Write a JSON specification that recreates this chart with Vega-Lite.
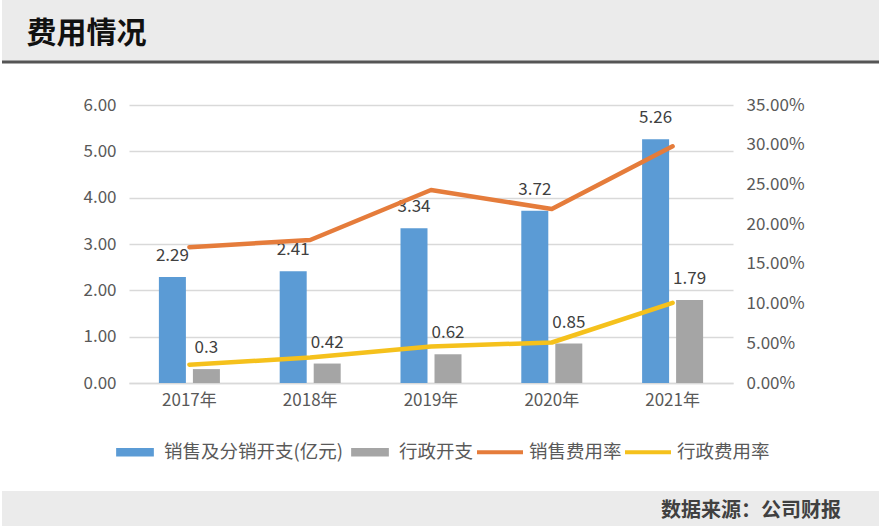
{
  "$schema": "https://vega.github.io/schema/vega-lite/v6.json",
  "padding": 0,
  "spacing": 32,
  "background": "white",
  "resolve": {"scale": {"color": "independent"}, "legend": {"color": "independent"}},
  "config": {
    "view": {"stroke": null},
    "font": "Noto Sans CJK SC",
    "axis": {"labelFont": "Noto Sans CJK SC", "labelColor": "#595959", "labelFontSize": 17, "ticks": false, "domain": false, "title": null},
    "legend": {"labelFont": "Noto Sans CJK SC"}
  },
  "datasets": {
    "main": [
      {"year": "2017年", "series": "销售及分销开支(亿元)", "kind": "bar", "value": 2.29},
      {"year": "2018年", "series": "销售及分销开支(亿元)", "kind": "bar", "value": 2.41},
      {"year": "2019年", "series": "销售及分销开支(亿元)", "kind": "bar", "value": 3.34},
      {"year": "2020年", "series": "销售及分销开支(亿元)", "kind": "bar", "value": 3.72},
      {"year": "2021年", "series": "销售及分销开支(亿元)", "kind": "bar", "value": 5.26},
      {"year": "2017年", "series": "行政开支", "kind": "bar", "value": 0.3},
      {"year": "2018年", "series": "行政开支", "kind": "bar", "value": 0.42},
      {"year": "2019年", "series": "行政开支", "kind": "bar", "value": 0.62},
      {"year": "2020年", "series": "行政开支", "kind": "bar", "value": 0.85},
      {"year": "2021年", "series": "行政开支", "kind": "bar", "value": 1.79},
      {"year": "2017年", "series": "销售费用率", "kind": "line", "value": 0.171},
      {"year": "2018年", "series": "销售费用率", "kind": "line", "value": 0.18},
      {"year": "2019年", "series": "销售费用率", "kind": "line", "value": 0.243},
      {"year": "2020年", "series": "销售费用率", "kind": "line", "value": 0.219},
      {"year": "2021年", "series": "销售费用率", "kind": "line", "value": 0.298},
      {"year": "2017年", "series": "行政费用率", "kind": "line", "value": 0.023},
      {"year": "2018年", "series": "行政费用率", "kind": "line", "value": 0.032},
      {"year": "2019年", "series": "行政费用率", "kind": "line", "value": 0.046},
      {"year": "2020年", "series": "行政费用率", "kind": "line", "value": 0.051},
      {"year": "2021年", "series": "行政费用率", "kind": "line", "value": 0.101}
    ]
  },
  "vconcat": [
    {
      "width": 879,
      "height": 62,
      "view": {"fill": "#ebebeb", "stroke": null},
      "data": {"values": [{"label": "费用情况"}]},
      "layer": [
        {
          "mark": {"type": "rule", "color": "#555555", "strokeWidth": 3},
          "encoding": {"y": {"datum": 0, "type": "quantitative", "scale": {"domain": [0, 1]}, "axis": null}}
        },
        {
          "mark": {"type": "text", "align": "left", "baseline": "middle", "fontSize": 30, "fontWeight": "bold", "color": "#111111", "font": "Noto Sans CJK SC"},
          "encoding": {
            "text": {"field": "label"},
            "x": {"datum": 0.028, "type": "quantitative", "scale": {"domain": [0, 1]}, "axis": null},
            "y": {"datum": 0.45, "type": "quantitative", "scale": {"domain": [0, 1]}, "axis": null}
          }
        }
      ]
    },
    {
      "spacing": 29,
      "resolve": {"scale": {"color": "independent"}, "legend": {"color": "independent"}},
      "vconcat": [
        {
          "spacing": 0,
          "resolve": {"scale": {"color": "independent"}, "legend": {"color": "independent"}},
          "hconcat": [
            {
              "width": 80,
              "height": 278,
              "data": {"values": []},
              "mark": "point"
            },
            {
              "width": 604,
              "height": 278,
              "data": {"name": "main"},
              "layer": [
                {
                  "transform": [{"filter": "datum.kind == 'bar'"}],
                  "encoding": {
                    "x": {
                      "field": "year", "type": "nominal", "sort": null,
                      "scale": {"paddingInner": 0.495, "paddingOuter": 0.2475},
                      "axis": {"labelAngle": 0, "labelPadding": 9, "domain": true, "domainColor": "#d9d9d9", "domainWidth": 1.5, "labelFontSize": 17}
                    },
                    "xOffset": {"field": "series", "type": "nominal", "sort": ["销售及分销开支(亿元)", "行政开支"], "scale": {"paddingInner": 0.206, "paddingOuter": 0}},
                    "y": {
                      "field": "value", "type": "quantitative",
                      "scale": {"domain": [0, 6], "nice": false},
                      "axis": {"values": [0, 1, 2, 3, 4, 5, 6], "format": ".2f", "grid": true, "gridColor": "#d9d9d9", "gridWidth": 1.5, "labelPadding": 13}
                    }
                  },
                  "layer": [
                    {
                      "mark": {"type": "bar"},
                      "encoding": {
                        "color": {
                          "field": "series", "type": "nominal",
                          "scale": {
                            "domain": ["销售及分销开支(亿元)", "行政开支", "销售费用率", "行政费用率"],
                            "range": ["#5b9bd5", "#a5a5a5", "#e57c3b", "#f5c11c"]
                          },
                          "legend": {
                            "orient": "none",
                            "legendX": -17,
                            "legendY": 324,
                            "direction": "horizontal",
                            "columns": 4,
                            "title": null,
                            "labelFontSize": 18.5,
                            "labelColor": "#595959",
                            "labelLimit": 400,
                            "symbolSize": 2116,
                            "labelOffset": 6,
                            "columnPadding": 3,
                            "encode": {
                              "symbols": {
                                "update": {
                                  "shape": {"signal": "(datum.value == '销售费用率' || datum.value == '行政费用率') ? 'M-1,-0.09H1V0.09H-1Z' : 'M-0.82,-0.18H0.82V0.18H-0.82Z'"},
                                  "fill": {"signal": "{'销售及分销开支(亿元)': '#5b9bd5', '行政开支': '#a5a5a5', '销售费用率': '#e57c3b', '行政费用率': '#f5c11c'}[datum.value]"},
                                  "stroke": {"value": "transparent"},
                                  "strokeWidth": {"value": 0},
                                  "opacity": {"value": 1}
                                }
                              }
                            }
                          }
                        }
                      }
                    },
                    {
                      "mark": {"type": "text", "baseline": "middle", "dy": -21, "fontSize": 17, "color": "#404040"},
                      "encoding": {
                        "text": {"field": "value", "type": "quantitative", "format": "~g"}
                      }
                    }
                  ]
                },
                {
                  "transform": [{"filter": "datum.kind == 'line'"}],
                  "mark": {"type": "line", "strokeWidth": 4.5, "strokeCap": "round", "strokeJoin": "round"},
                  "encoding": {
                    "x": {"field": "year", "type": "nominal", "sort": null},
                    "y": {
                      "field": "value", "type": "quantitative",
                      "scale": {"domain": [0, 0.35], "nice": false},
                      "axis": {"orient": "right", "values": [0, 0.05, 0.1, 0.15, 0.2, 0.25, 0.3, 0.35], "format": ".2%", "grid": false, "labelPadding": 13}
                    },
                    "color": {"field": "series", "type": "nominal"}
                  }
                }
              ],
              "resolve": {"scale": {"y": "independent"}}
            }
          ]
        },
        {
          "width": 879,
          "height": 35,
          "view": {"fill": "#ebebeb", "stroke": null},
          "data": {"values": [{"label": "数据来源：公司财报"}]},
          "mark": {"type": "text", "align": "center", "baseline": "middle", "fontSize": 20, "fontWeight": "bold", "color": "#404040", "font": "Noto Sans CJK SC"},
          "encoding": {
            "text": {"field": "label"},
            "x": {"datum": 0.852, "type": "quantitative", "scale": {"domain": [0, 1]}, "axis": null},
            "y": {"datum": 0.43, "type": "quantitative", "scale": {"domain": [0, 1]}, "axis": null}
          }
        }
      ]
    }
  ]
}
